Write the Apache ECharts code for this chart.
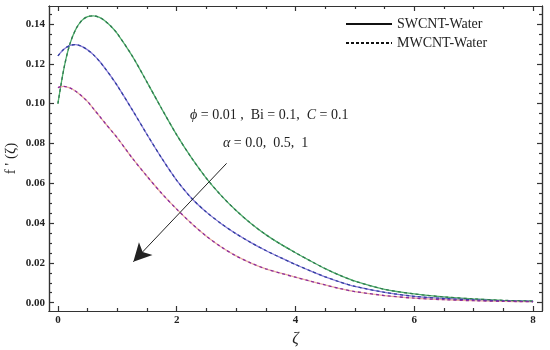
<!DOCTYPE html>
<html>
<head>
<meta charset="utf-8">
<script src="https://cdn.jsdelivr.net/npm/echarts@6/dist/echarts.min.js"></script>
<style>html,body{margin:0;padding:0;background:#fff;}#c{width:550px;height:350px;}</style>
</head>
<body>
<div id="c"></div>
<script>
// ---- data ----
const zeta = [0, 0.1, 0.2, 0.3, 0.4, 0.5, 0.6, 0.7, 0.8, 0.9, 1.0, 1.25, 1.5, 1.75, 2.0, 2.25, 2.5, 2.75, 3.0, 3.25, 3.5, 3.75, 4.0, 4.25, 4.5, 4.75, 5.0, 5.5, 6.0, 6.5, 7.0, 7.5, 8.0];
// alpha = 0.0
const alpha0 = [0.1000, 0.1175, 0.1298, 0.1373, 0.1417, 0.1437, 0.1441, 0.1433, 0.1414, 0.1386, 0.1352, 0.1240, 0.1108, 0.0973, 0.0843, 0.0727, 0.0625, 0.0538, 0.0463, 0.0398, 0.0342, 0.0294, 0.0251, 0.0210, 0.0171, 0.0137, 0.0108, 0.0067, 0.0044, 0.0029, 0.0019, 0.0012, 0.0008];
// alpha = 0.5
const alpha05 = [0.1240, 0.1273, 0.1292, 0.1296, 0.1288, 0.1270, 0.1245, 0.1213, 0.1175, 0.1134, 0.1090, 0.0970, 0.0845, 0.0725, 0.0615, 0.0525, 0.0455, 0.0397, 0.0346, 0.0302, 0.0262, 0.0226, 0.0192, 0.0160, 0.0130, 0.0104, 0.0082, 0.0052, 0.0032, 0.0021, 0.0014, 0.0009, 0.0006];
// alpha = 1
const alpha1 = [0.1081, 0.1087, 0.1079, 0.1062, 0.1038, 0.1010, 0.0974, 0.0937, 0.0900, 0.0864, 0.0828, 0.0727, 0.0635, 0.0548, 0.0470, 0.0398, 0.0334, 0.0280, 0.0235, 0.0199, 0.0170, 0.0148, 0.0128, 0.0108, 0.0089, 0.0071, 0.0056, 0.0036, 0.0023, 0.0015, 0.0010, 0.0007, 0.0005];
// MWCNT curves coincide with SWCNT curves in the reference
const mwAlpha0 = alpha0.slice();
const mwAlpha05 = alpha05.slice();
const mwAlpha1 = alpha1.slice();

const xMajor = [0, 2, 4, 6, 8];
const xMinor = [0.5, 1, 1.5, 2.5, 3, 3.5, 4.5, 5, 5.5, 6.5, 7, 7.5];
const yMajor = [0, 0.02, 0.04, 0.06, 0.08, 0.10, 0.12, 0.14];
const yMinor = [0.005, 0.01, 0.015, 0.025, 0.03, 0.035, 0.045, 0.05, 0.055, 0.065, 0.07, 0.075, 0.085, 0.09, 0.095, 0.105, 0.11, 0.115, 0.125, 0.13, 0.135, 0.145];
const arrowFrom = [2.84, 0.070];
const arrowTo = [1.27, 0.0206];
const legendNames = ['SWCNT-Water', 'MWCNT-Water'];

const pts = arr => zeta.map((x, i) => [x, arr[i]]);
const SERIF = 'Liberation Serif';
const frame = {color: '#333', width: 1.2};
const xMin = -0.15, xMax = 8.15, yMin = -0.00417, yMax = 0.14904;

function xa(pos, vals, len, labels) {
  return {
    type: 'value', min: xMin, max: xMax, position: pos,
    axisLine: {show: true, onZero: false, lineStyle: frame},
    axisTick: {show: true, inside: true, length: len, customValues: vals, lineStyle: frame},
    axisLabel: labels ? {show: true, customValues: vals, margin: 4, fontFamily: SERIF, fontWeight: 'bold', fontSize: 11, color: '#222', formatter: v => String(v)} : {show: false},
    splitLine: {show: false}
  };
}
function ya(pos, vals, len, labels) {
  return {
    type: 'value', min: yMin, max: yMax, position: pos,
    axisLine: {show: true, onZero: false, lineStyle: frame},
    axisTick: {show: true, inside: true, length: len, customValues: vals, lineStyle: frame},
    axisLabel: labels ? {show: true, customValues: vals, margin: 4, fontFamily: SERIF, fontWeight: 'bold', fontSize: 11, color: '#222', formatter: v => v.toFixed(2)} : {show: false},
    splitLine: {show: false}
  };
}

const xAxes = [xa('bottom', xMajor, 5, true), xa('bottom', xMinor, 3, false), xa('top', xMajor, 5, false), xa('top', xMinor, 3, false)];
xAxes[0].name = 'ζ';
xAxes[0].nameLocation = 'middle';
xAxes[0].nameGap = 7;
xAxes[0].nameTextStyle = {fontFamily: SERIF, fontStyle: 'italic', fontSize: 16, color: '#222', verticalAlign: 'top'};
const yAxes = [ya('left', yMajor, 5, true), ya('left', yMinor, 3, false), ya('right', yMajor, 5, false), ya('right', yMinor, 3, false)];
yAxes[0].name = "f ' (ζ)";
yAxes[0].nameLocation = 'middle';
yAxes[0].nameGap = 30;
yAxes[0].nameRotate = 90;
yAxes[0].nameMoveOverlap = false;
yAxes[0].nameTextStyle = {fontFamily: SERIF, fontSize: 15, color: '#222'};

function solid(name, data, color) {
  return {type: 'line', name: name, data: pts(data), smooth: 0.3, symbol: 'none', silent: true,
    lineStyle: {color: color, width: 1.3, type: 'solid'}, itemStyle: {color: color}, z: 2};
}
function dashed(name, data, color) {
  return {type: 'line', name: name, data: pts(data), smooth: 0.3, symbol: 'none', silent: true,
    lineStyle: {color: color, width: 1.3, type: [3, 3]}, itemStyle: {color: color}, z: 3};
}

const series = [
  solid('sw0', alpha0, '#4fae6a'),
  solid('sw05', alpha05, '#8a7ad8'),
  solid('sw1', alpha1, '#e8b0a0'),
  dashed('mw0', mwAlpha0, '#2f7a50'),
  dashed('mw05', mwAlpha05, '#2f3f9e'),
  dashed('mw1', mwAlpha1, '#8e2a9e'),
  {type: 'line', name: legendNames[0], data: [], symbol: 'none', showSymbol: false, lineStyle: {color: '#111', width: 1.2, type: 'solid'}, itemStyle: {color: '#111'}},
  {type: 'line', name: legendNames[1], data: [], symbol: 'none', showSymbol: false, lineStyle: {color: '#111', width: 1.5, type: [3, 2]}, itemStyle: {color: '#111'}}
];
series[0].markLine = {
  silent: true, symbol: ['none', 'arrow'], symbolSize: [14, 18],
  lineStyle: {color: '#222', width: 1, type: 'solid'}, label: {show: false},
  data: [[{coord: arrowFrom}, {coord: arrowTo}]]
};

const chart = echarts.init(document.getElementById('c'), null, {renderer: 'canvas'});
chart.setOption({
  animation: false,
  backgroundColor: '#fff',
  grid: {left: 49, right: 8, top: 6, bottom: 39, containLabel: false, outerBoundsMode: 'none'},
  xAxis: xAxes,
  yAxis: yAxes,
  legend: {
    data: legendNames, orient: 'vertical', left: 345, top: 17, padding: 0,
    itemWidth: 46, itemHeight: 14, itemGap: 5, selectedMode: false,
    itemStyle: {opacity: 0},
    textStyle: {fontFamily: SERIF, fontSize: 14, color: '#222'}
  },
  graphic: [
    {type: 'text', left: 190, top: 108, silent: true,
      style: {text: '{i|ϕ} = 0.01 ,  Bi = 0.1,  {i|C} = 0.1', fontFamily: SERIF, fontSize: 14, fill: '#222',
        rich: {i: {fontFamily: SERIF, fontStyle: 'italic', fontSize: 14, fill: '#222'}}}},
    {type: 'text', left: 223, top: 136, silent: true,
      style: {text: '{i|α} = 0.0,  0.5,  1', fontFamily: SERIF, fontSize: 14, fill: '#222',
        rich: {i: {fontFamily: SERIF, fontStyle: 'italic', fontSize: 14, fill: '#222'}}}}
  ],
  series: series
});
</script>
</body>
</html>
